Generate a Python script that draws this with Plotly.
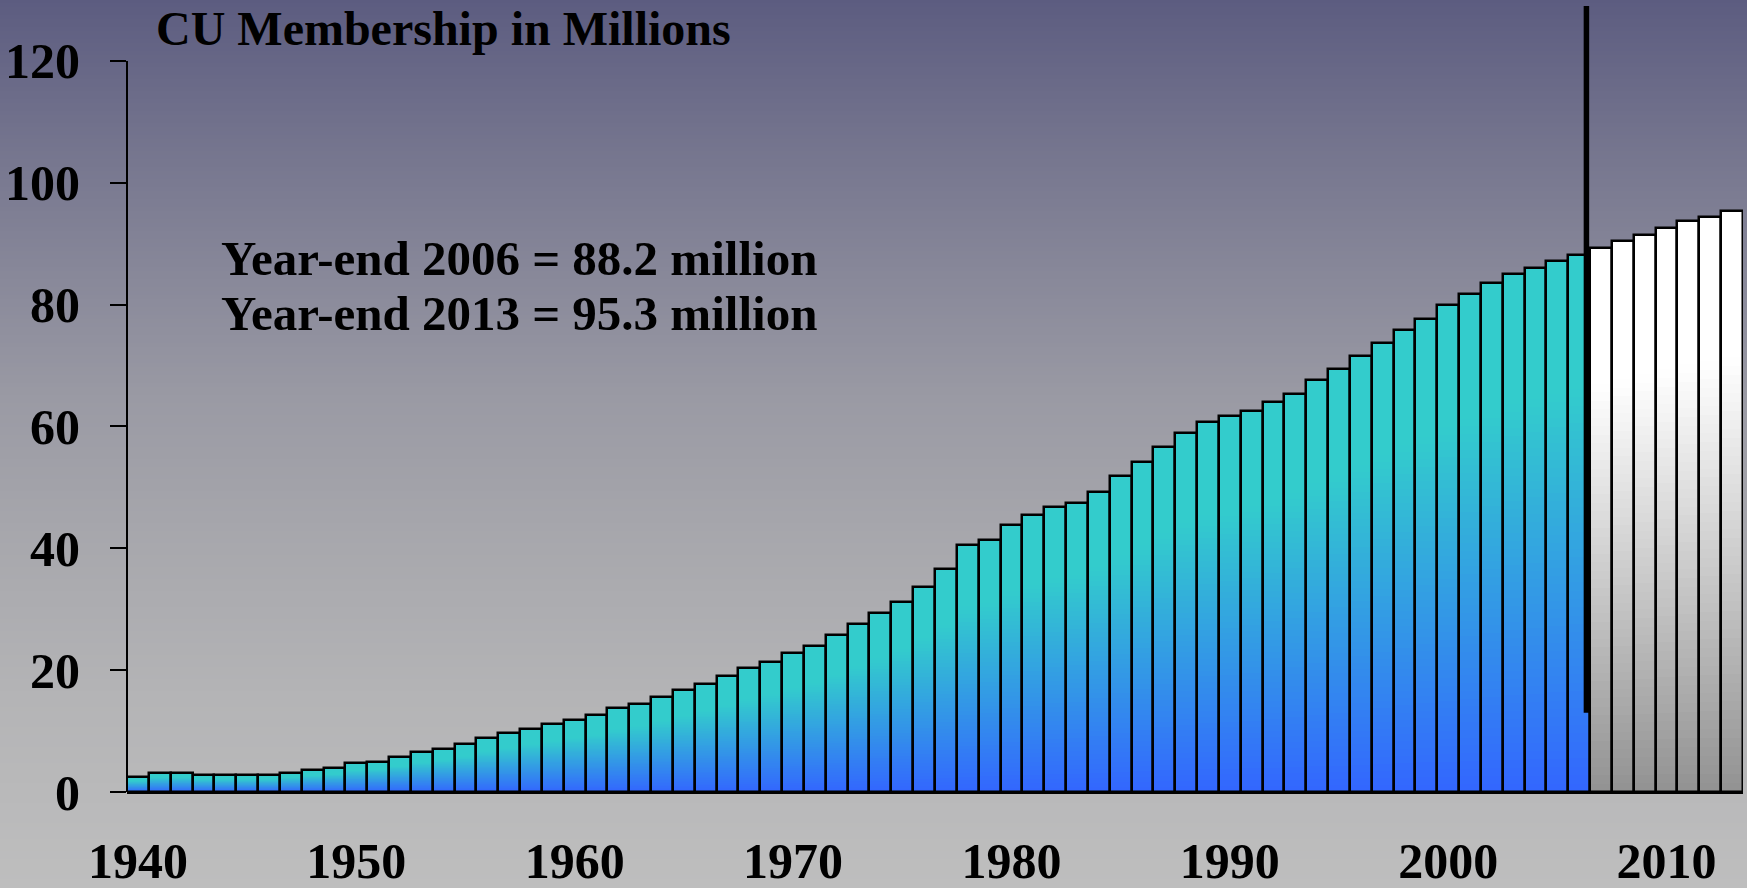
import plotly.graph_objects as go

# ---- data -------------------------------------------------------------
years = list(range(1940, 2014))
members = [2.4, 3.2, 3.2, 2.8, 2.8, 2.8, 2.8, 3.2, 3.6, 3.9,
           4.7, 5.0, 5.7, 6.5, 7.1, 7.8, 8.9, 9.7, 10.4, 11.1,
           11.9, 12.6, 13.8, 14.5, 15.6, 16.7, 17.8, 19.1, 20.3, 21.4,
           22.8, 23.9, 25.7, 27.6, 29.4, 31.2, 33.7, 36.6, 40.6, 41.3,
           43.9, 45.4, 46.8, 47.5, 49.3, 51.9, 54.1, 56.6, 58.9, 60.7,
           61.7, 62.5, 64.0, 65.4, 67.6, 69.4, 71.6, 73.7, 75.9, 77.7,
           79.9, 81.7, 83.5, 85.0, 86.0, 87.2, 88.2, 89.3, 90.4, 91.5,
           92.6, 93.7, 94.4, 95.3]
last_actual_year = 2006
final_year = 2013
x_tick_years = [1940, 1950, 1960, 1970, 1980, 1990, 2000, 2010]
y_ticks = [0, 20, 40, 60, 80, 100, 120]

# ---- page geometry ----------------------------------------------------
W, H = 1747, 888
ML, MR, MT, MB = 127, 4, 0, 96
PW, PH = W - ML - MR, H - MT - MB
FONT = "Liberation Serif"


def px_x(p):
    return (p - ML) / PW


def px_y(p):
    return (H - MB - p) / PH


def lerp(c0, c1, f):
    return tuple(round(a + (b - a) * f) for a, b in zip(c0, c1))


def rgb(c):
    return "rgb(%d,%d,%d)" % c


BLUE_BOTTOM, CYAN_TOP = (51, 102, 255), (51, 204, 204)
GREY_BOTTOM, WHITE_TOP = (146, 146, 146), (255, 255, 255)


def bar_color(t, actual):
    f = min(1.0, t / 0.75)
    return rgb(lerp(BLUE_BOTTOM, CYAN_TOP, f) if actual else lerp(GREY_BOTTOM, WHITE_TOP, f))


fig = go.Figure()

# vertical gradient inside every bar: overlapping slices, each running
# from a fraction of the bar height up to the bar top
N = 64
for k in range(N):
    t = k / N
    fig.add_bar(
        x=years,
        y=[v * (1 - t) for v in members],
        base=[v * t for v in members],
        width=1,
        marker=dict(color=[bar_color(t + 0.5 / N, y <= last_actual_year) for y in years],
                    line=dict(width=0)),
        hoverinfo="skip",
        showlegend=False,
    )

# bar outlines
fig.add_bar(
    x=years, y=members, width=1,
    marker=dict(color="rgba(0,0,0,0)", line=dict(color="black", width=2.5)),
    hovertemplate="%{x}: %{y} million<extra></extra>",
    showlegend=False,
)

# ---- background gradient (page-wide strips) ---------------------------
bg_stops = [(0, (92, 92, 128)), (150, (117, 117, 142)), (250, (132, 132, 151)),
            (400, (154, 154, 164)), (550, (168, 168, 173)), (700, (180, 180, 182)),
            (888, (190, 190, 190))]


def bg_color(p):
    for (p0, c0), (p1, c1) in zip(bg_stops, bg_stops[1:]):
        if p <= p1:
            return lerp(c0, c1, (p - p0) / (p1 - p0))
    return bg_stops[-1][1]


shapes = []
step = 4
for p in range(0, H, step):
    shapes.append(dict(
        type="rect", xref="paper", yref="paper", layer="below",
        x0=px_x(-5), x1=px_x(W + 5), y0=px_y(p + step + 1), y1=px_y(p - 1 if p else -5),
        fillcolor=rgb(bg_color(p + step / 2)), line=dict(width=0),
    ))

# y axis line from 0 to 120
shapes.append(dict(type="line", xref="paper", yref="y", x0=0, x1=0,
                   y0=0, y1=y_ticks[-1], line=dict(color="black", width=2), layer="above"))

# divider between reported and projected years
divider_x = last_actual_year + 0.33
shapes.append(dict(type="line", xref="x", yref="y",
                   x0=divider_x, x1=divider_x,
                   y0=13, y1=129, line=dict(color="black", width=5.5), layer="above"))

val = dict(zip(years, members))
annotations = [
    dict(text="CU Membership in Millions", xref="paper", yref="paper",
         x=px_x(154), y=px_y(0), xanchor="left", yanchor="top", showarrow=False,
         font=dict(family=FONT, size=48, color="black", weight="bold")),
    dict(text=f"Year-end {last_actual_year} = {val[last_actual_year]} million",
         xref="paper", yref="paper", x=px_x(219), y=px_y(229),
         xanchor="left", yanchor="top", showarrow=False,
         font=dict(family=FONT, size=49, color="black", weight="bold")),
    dict(text=f"Year-end {final_year} = {val[final_year]} million",
         xref="paper", yref="paper", x=px_x(219), y=px_y(284),
         xanchor="left", yanchor="top", showarrow=False,
         font=dict(family=FONT, size=49, color="black", weight="bold")),
]

tick_font = dict(family=FONT, size=50, color="black", weight="bold")

fig.update_layout(
    width=W, height=H,
    margin=dict(l=ML, r=MR, t=MT, b=MB, pad=0, autoexpand=False),
    paper_bgcolor="rgb(190,190,190)",
    plot_bgcolor="rgba(0,0,0,0)",
    barmode="overlay", bargap=0,
    shapes=shapes, annotations=annotations,
    xaxis=dict(range=[years[0] - 0.5, years[-1] + 0.5], tickvals=x_tick_years,
               ticks="", showline=True, linecolor="black", linewidth=2,
               showgrid=False, zeroline=False, tickfont=tick_font,
               ticklabelstandoff=24, automargin=False, fixedrange=True),
    yaxis=dict(range=[0, 130], tickvals=y_ticks, ticks="outside", ticklen=16,
               tickwidth=2, tickcolor="black", showline=False, showgrid=False,
               zeroline=False, tickfont=tick_font, ticklabelstandoff=20,
               automargin=False, fixedrange=True),
)

fig.write_html("out.html", config={"displayModeBar": False})
